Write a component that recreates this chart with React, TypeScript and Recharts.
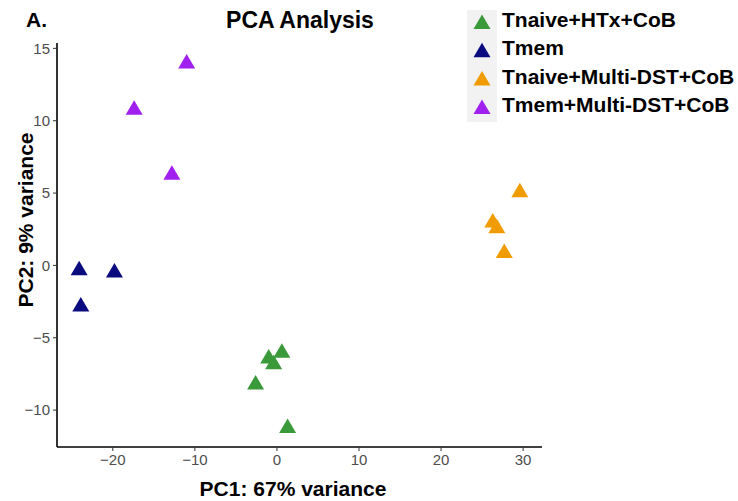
import { ScatterChart, Scatter, XAxis, YAxis } from 'recharts';

// PCA coordinates (PC1, PC2)
const tnaiveHtx = [
  { x: -2.6, y: -8.1 },
  { x: -1.0, y: -6.3 },
  { x: -0.4, y: -6.7 },
  { x: 0.6, y: -5.9 },
  { x: 1.3, y: -11.1 },
];
const tmem = [
  { x: -24.1, y: -0.2 },
  { x: -19.8, y: -0.35 },
  { x: -23.9, y: -2.7 },
];
const tnaiveMulti = [
  { x: 26.3, y: 3.1 },
  { x: 26.8, y: 2.7 },
  { x: 29.6, y: 5.2 },
  { x: 27.7, y: 1.0 },
];
const tmemMulti = [
  { x: -11.0, y: 14.1 },
  { x: -17.4, y: 10.9 },
  { x: -12.8, y: 6.4 },
];

const xTicks = [-20, -10, 0, 10, 20, 30];
const yTicks = [-10, -5, 0, 5, 10, 15];

const SERIES = [
  { name: 'Tnaive+HTx+CoB', data: tnaiveHtx, color: '#3A9A3A' },
  { name: 'Tmem', data: tmem, color: '#0B0B80' },
  { name: 'Tnaive+Multi-DST+CoB', data: tnaiveMulti, color: '#F09C00' },
  { name: 'Tmem+Multi-DST+CoB', data: tmemMulti, color: '#A020F0' },
];

const FONT = '"Liberation Sans", Arial, Helvetica, sans-serif';

function triangle(cx: number, cy: number) {
  return `${cx - 8.5},${cy + 7} ${cx + 8.5},${cy + 7} ${cx},${cy - 7.5}`;
}

function makeShape(color: string) {
  return (props: any) => {
    const { cx, cy } = props;
    if (cx == null || cy == null) return <g />;
    return <polygon points={triangle(cx, cy)} fill={color} />;
  };
}

const fmt = (v: number) => String(v).replace('-', '\u2212');

export default function App() {
  return (
    <div style={{ position: 'absolute', left: 0, top: 0, width: 738, height: 501, background: '#fff', fontFamily: FONT }}>
      <ScatterChart width={738} height={501} margin={{ top: 43, right: 196, bottom: 0, left: 0 }}>
        <XAxis
          type="number"
          dataKey="x"
          domain={[-26.8, 32.3]}
          ticks={xTicks}
          allowDataOverflow
          height={54}
          tickFormatter={fmt}
          axisLine={{ stroke: '#000', strokeWidth: 1.6 }}
          tickLine={{ stroke: '#333' }}
          tickSize={4}
          tickMargin={3}
          tick={{ fill: '#4D4D4D', fontSize: 15, fontFamily: FONT }}
        />
        <YAxis
          type="number"
          dataKey="y"
          domain={[-12.55, 15.37]}
          ticks={yTicks}
          allowDataOverflow
          width={57}
          tickFormatter={fmt}
          axisLine={{ stroke: '#000', strokeWidth: 1.6 }}
          tickLine={{ stroke: '#333' }}
          tickSize={4}
          tickMargin={3}
          tick={{ fill: '#4D4D4D', fontSize: 15, fontFamily: FONT }}
        />
        {SERIES.map((s) => (
          <Scatter
            key={s.name}
            name={s.name}
            data={s.data}
            fill={s.color}
            shape={makeShape(s.color)}
            isAnimationActive={false}
          />
        ))}
      </ScatterChart>
      <svg
        width={738}
        height={501}
        style={{ position: 'absolute', left: 0, top: 0, pointerEvents: 'none' }}
        fontFamily={FONT}
      >
        <text x={26} y={27} fontSize={21} fontWeight="bold" fill="#000">A.</text>
        <text x={300} y={28} fontSize={23} fontWeight="bold" textAnchor="middle" fill="#000">PCA Analysis</text>
        <text x={293} y={496} fontSize={21} fontWeight="bold" textAnchor="middle" fill="#000">PC1: 67% variance</text>
        <text
          x={0}
          y={0}
          fontSize={21}
          fontWeight="bold"
          textAnchor="middle"
          fill="#000"
          transform="translate(33,220) rotate(-90)"
        >
          PC2: 9% variance
        </text>
        <rect x={467} y={10} width={30} height={112} fill="#F2F2F2" />
        {SERIES.map((s, i) => (
          <g key={s.name}>
            <polygon points={triangle(482, 22 + i * 28.3)} fill={s.color} />
            <text x={502} y={27 + i * 28.3} fontSize={21} fontWeight="bold" fill="#000">{s.name}</text>
          </g>
        ))}
      </svg>
    </div>
  );
}
